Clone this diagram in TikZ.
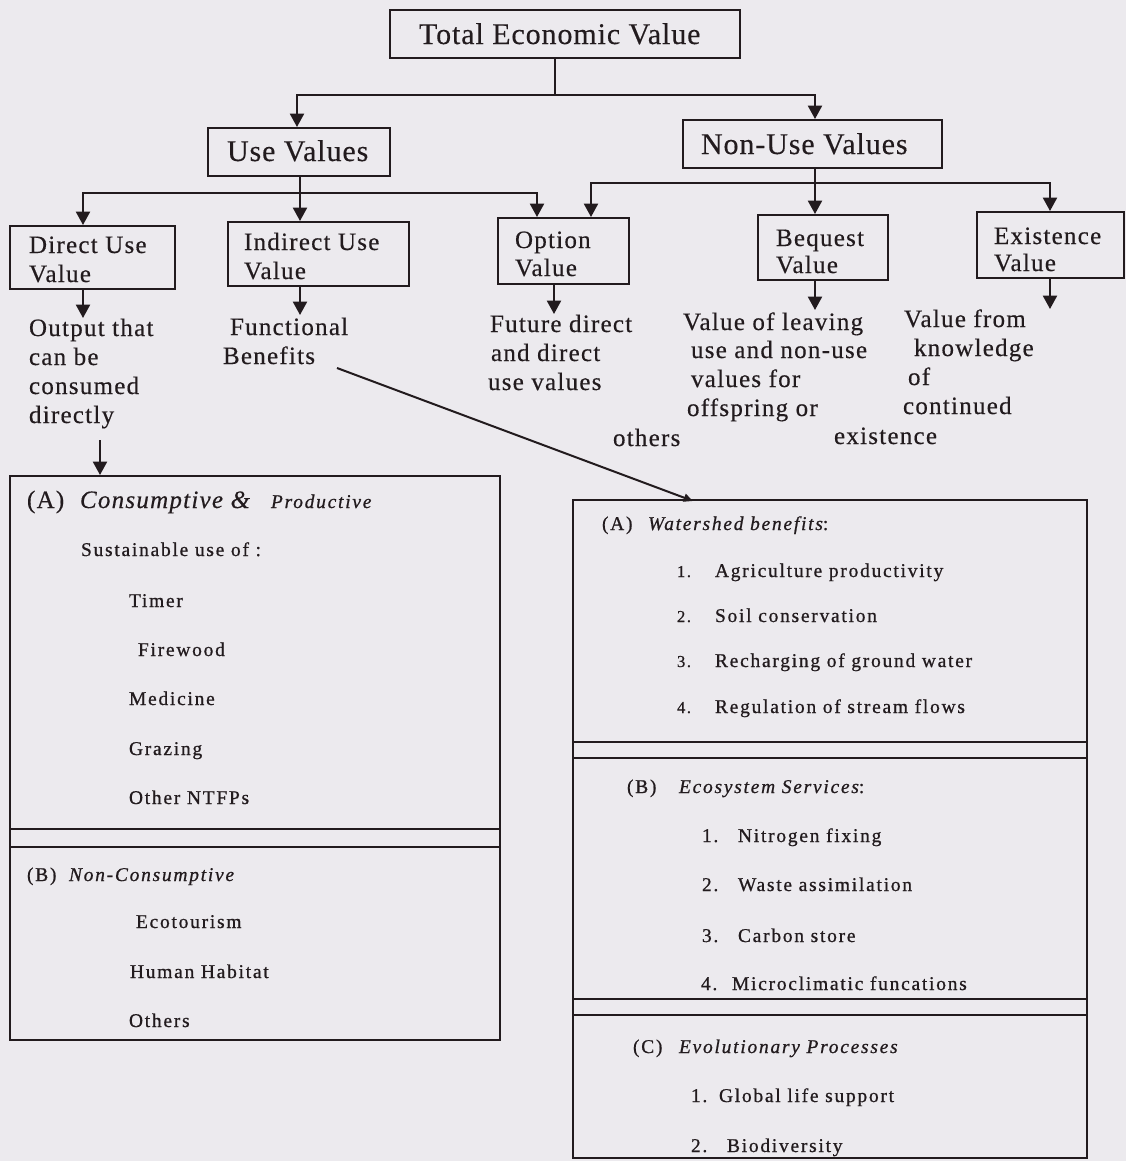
\documentclass[tikz,border=0pt]{standalone}
\usepackage{fontspec}
\setmainfont{Liberation Serif}[LetterSpace=3,FakeBold=0.3]
\newfontfamily\midf{Liberation Serif}[LetterSpace=5,FakeBold=0.4]
\newfontfamily\lowf{Liberation Serif}[LetterSpace=9,FakeBold=0.8]
\usetikzlibrary{arrows.meta,fit}
\definecolor{paper}{RGB}{236,234,238}
\definecolor{ink}{RGB}{34,27,30}
\begin{document}
\begin{tikzpicture}[x=0.75pt,y=-0.75pt,line width=1.5pt,color=ink,
  box/.style={draw,inner sep=0pt,line width=1.5pt},
  ttxt/.style={anchor=base west,inner sep=0pt,font=\fontsize{22.5pt}{27pt}\selectfont},
  mtxt/.style={anchor=base west,inner sep=0pt,font=\midf\fontsize{18.75pt}{22pt}\selectfont},
  ltxt/.style={anchor=base west,inner sep=0pt,font=\lowf\fontsize{14.6pt}{17pt}\selectfont},
  litxt/.style={anchor=base west,inner sep=0pt,font=\lowf\itshape\fontsize{14.6pt}{17pt}\selectfont},
  bitxt/.style={anchor=base west,inner sep=0pt,font=\midf\itshape\fontsize{18.75pt}{22pt}\selectfont},
  ntxt/.style={anchor=base west,inner sep=0pt,font=\lowf\fontsize{12.5pt}{15pt}\selectfont},
  arr/.style={-{Triangle[length=10pt,width=10.5pt]}},
  sarr/.style={-{Triangle[length=7pt,width=6pt]}}]
\fill[paper] (0,0) rectangle (1126,1161);
\useasboundingbox (0,0) rectangle (1126,1161);

% ---- boxes
\node[box,fit={(390,10) (740,58)}] (total) {};
\node[box,fit={(208,128) (390,176)}] (use) {};
\node[box,fit={(683,120) (942,168)}] (nonuse) {};
\node[box,fit={(10,226) (175,289)}] (direct) {};
\node[box,fit={(228,222) (409,286)}] (indirect) {};
\node[box,fit={(498,218) (629,284)}] (option) {};
\node[box,fit={(758,215) (888,280)}] (bequest) {};
\node[box,fit={(977,212) (1124,278)}] (exist) {};
\node[box,fit={(10,476) (500,1040)}] (lbox) {};
\node[box,fit={(573,500) (1087,1158)}] (rbox) {};

% ---- box texts
\node[ttxt] (totalT) at (418,44) {Total Economic Value};
\node[ttxt] (useT) at (226,161) {Use Values};
\node[ttxt] (nonuseT) at (700,154) {Non-Use Values};
\node[mtxt] (directT1) at (28,253) {Direct Use};
\node[mtxt] (directT2) at (28,282) {Value};
\node[mtxt] (indirectT1) at (243,250) {Indirect Use};
\node[mtxt] (indirectT2) at (243,279) {Value};
\node[mtxt] (optionT1) at (514,248) {Option};
\node[mtxt] (optionT2) at (514,276) {Value};
\node[mtxt] (bequestT1) at (775,246) {Bequest};
\node[mtxt] (bequestT2) at (775,273) {Value};
\node[mtxt] (existT1) at (993,244) {Existence};
\node[mtxt] (existT2) at (993,271) {Value};

% ---- descriptions
\node[mtxt] (d1) at (28,336) {Output that};
\node[mtxt] (d2) at (28,365) {can be};
\node[mtxt] (d3) at (28,394) {consumed};
\node[mtxt] (d4) at (28,423) {directly};
\node[mtxt] (f1) at (229,335) {Functional};
\node[mtxt] (f2) at (222,364) {Benefits};
\node[mtxt] (o1) at (489,332) {Future direct};
\node[mtxt] (o2) at (490,361) {and direct};
\node[mtxt] (o3) at (487,390) {use values};
\node[mtxt] (b1) at (682,330) {Value of leaving};
\node[mtxt] (b2) at (690,358) {use and non-use};
\node[mtxt] (b3) at (690,387) {values for};
\node[mtxt] (b4) at (686,416) {offspring or};
\node[mtxt] (b5) at (612,446) {others};
\node[mtxt] (e1) at (903,327) {Value from};
\node[mtxt] (e2) at (913,356) {knowledge};
\node[mtxt] (e3) at (907,385) {of};
\node[mtxt] (e4) at (902,414) {continued};
\node[mtxt] (e5) at (833,444) {existence};

% ---- left lower box
\draw (lbox.west |- 0,829) -- (lbox.east |- 0,829);
\draw (lbox.west |- 0,847) -- (lbox.east |- 0,847);
\node[mtxt] (la) at (26,508) {(A)};
\node[bitxt] (la1) at (79,508) {Consumptive \&};
\node[litxt] (la2) at (270,508) {Productive};
\node[ltxt] (l0) at (80,556) {Sustainable use of :};
\node[ltxt] (l1) at (128,607) {Timer};
\node[ltxt] (l2) at (137,656) {Firewood};
\node[ltxt] (l3) at (128,705) {Medicine};
\node[ltxt] (l4) at (128,755) {Grazing};
\node[ltxt] (l5) at (128,804) {Other NTFPs};
\node[ltxt] (lb) at (26,881) {(B)};
\node[litxt] (lb1) at (68,881) {Non-Consumptive};
\node[ltxt] (l6) at (135,928) {Ecotourism};
\node[ltxt] (l7) at (129,978) {Human Habitat};
\node[ltxt] (l8) at (128,1027) {Others};

% ---- right lower box
\draw (rbox.west |- 0,742) -- (rbox.east |- 0,742);
\draw (rbox.west |- 0,758) -- (rbox.east |- 0,758);
\draw (rbox.west |- 0,999) -- (rbox.east |- 0,999);
\draw (rbox.west |- 0,1015) -- (rbox.east |- 0,1015);
\node[ltxt] (ra) at (601,530) {(A)};
\node[litxt] (ra0) at (647,530) {Watershed benefits\upshape:};
\node[ntxt] (ra1n) at (676,577) {1.};
\node[ltxt] (ra1) at (714,577) {Agriculture productivity};
\node[ntxt] (ra2n) at (676,622) {2.};
\node[ltxt] (ra2) at (714,622) {Soil conservation};
\node[ntxt] (ra3n) at (676,667) {3.};
\node[ltxt] (ra3) at (714,667) {Recharging of ground water};
\node[ntxt] (ra4n) at (676,713) {4.};
\node[ltxt] (ra4) at (714,713) {Regulation of stream flows};
\node[ltxt] (rb) at (626,793) {(B)};
\node[litxt] (rb0) at (678,793) {Ecosystem Services\upshape:};
\node[ltxt] (rb1n) at (701,842) {1.};
\node[ltxt] (rb1) at (737,842) {Nitrogen fixing};
\node[ltxt] (rb2n) at (701,891) {2.};
\node[ltxt] (rb2) at (737,891) {Waste assimilation};
\node[ltxt] (rb3n) at (701,942) {3.};
\node[ltxt] (rb3) at (737,942) {Carbon store};
\node[ltxt] (rb4n) at (700,990) {4.};
\node[ltxt] (rb4) at (731,990) {Microclimatic funcations};
\node[ltxt] (rc) at (632,1053) {(C)};
\node[litxt] (rc0) at (678,1053) {Evolutionary Processes};
\node[ltxt] (rc1n) at (690,1102) {1.};
\node[ltxt] (rc1) at (718,1102) {Global life support};
\node[ltxt] (rc2n) at (690,1152) {2.};
\node[ltxt] (rc2) at (726,1152) {Biodiversity};

% ---- connector coordinates
\coordinate (jt) at (555,95);
\coordinate (xL) at (297,0);
\coordinate (xR) at (815,0);
\coordinate (ju) at (300,193);
\coordinate (xd) at (83,0);
\coordinate (xo1) at (537,0);
\coordinate (jn) at (815,183);
\coordinate (xo2) at (591,0);
\coordinate (xe) at (1050,0);
\coordinate (ad) at (83,318);
\coordinate (ai) at (300,315);
\coordinate (ao) at (554,314);
\coordinate (ab) at (815,310);
\coordinate (ae) at (1050,309);
\coordinate (dstart) at (100,440);
\coordinate (fstart) at (337,368);
\coordinate (fend) at (693,501);

% ---- connectors
\draw (total.south -| jt) -- (jt);
\draw[arr] (jt) -| (use.north -| xL);
\draw[arr] (jt) -| (nonuse.north -| xR);
\draw (use.south -| ju) -- (ju);
\draw[arr] (ju) -| (direct.north -| xd);
\draw[arr] (ju) -- (indirect.north -| ju);
\draw[arr] (ju) -| (option.north -| xo1);
\draw (nonuse.south -| jn) -- (jn);
\draw[arr] (jn) -| (option.north -| xo2);
\draw[arr] (jn) -- (bequest.north -| jn);
\draw[arr] (jn) -| (exist.north -| xe);
\draw[arr] (direct.south -| xd) -- (ad);
\draw[arr] (indirect.south -| ai) -- (ai);
\draw[arr] (option.south -| ao) -- (ao);
\draw[arr] (bequest.south -| ab) -- (ab);
\draw[arr] (exist.south -| ae) -- (ae);
\draw[arr] (dstart) -- (lbox.north -| dstart);
\draw[sarr] (fstart) -- (fend);
\end{tikzpicture}
\end{document}
